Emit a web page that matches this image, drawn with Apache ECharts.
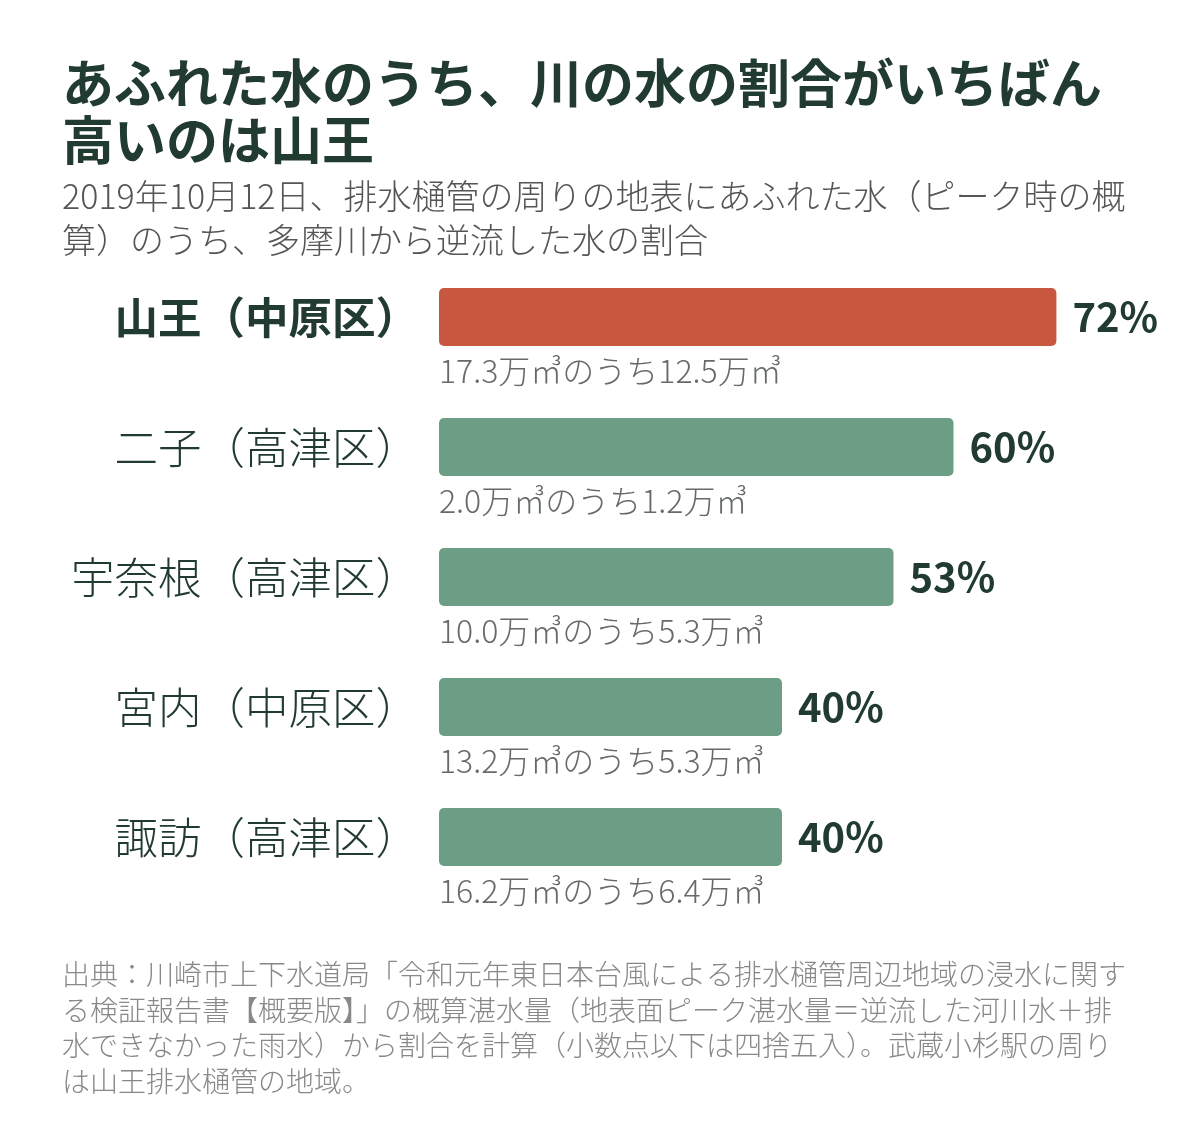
<!doctype html>
<html>
<head>
    <meta charset="utf-8">
    <title>あふれた水のうち、川の水の割合</title>
    <script src="https://cdn.jsdelivr.net/npm/echarts@6/dist/echarts.min.js"></script>
    <style>
        html, body{
            margin: 0;
            padding: 0;
            background-color: #fff;
        }
        #chartBox{
            width: 1200px;
            height: 1132px;
        }
    </style>
</head>
<body>
    <div id="chartBox"></div>
<script type="text/javascript">
    //データ
    var categories = ['山王（中原区）', '二子（高津区）', '宇奈根（高津区）', '宮内（中原区）', '諏訪（高津区）'];
    var ratioValues = [72, 60, 53, 40, 40];
    var subLabels = [
        '17.3万㎥のうち12.5万㎥',
        '2.0万㎥のうち1.2万㎥',
        '10.0万㎥のうち5.3万㎥',
        '13.2万㎥のうち5.3万㎥',
        '16.2万㎥のうち6.4万㎥'
    ];
    var highlightIndex = 0;

    var fontFamily = '"Noto Sans CJK JP", "Noto Sans", sans-serif';
    var darkColor = '#213b31';

    function chartInit(){
        var myChart = echarts.init(document.getElementById('chartBox'));

        var yData = categories.map(function(name, i){
            return i == highlightIndex ? {value: name, textStyle: {fontWeight: 'bold'}} : name;
        });
        var barData = ratioValues.map(function(v, i){
            return {
                value: v,
                itemStyle: {color: i == highlightIndex ? '#c8573f' : '#6b9e85'}
            };
        });

        var option = {
            backgroundColor: '#fff',
            textStyle: {fontFamily: fontFamily},
            title: [{
                text: 'あふれた水のうち、川の水の割合がいちばん\n高いのは山王',
                left: 62,
                top: 55,
                padding: 0,
                textStyle: {
                    fontFamily: fontFamily,
                    fontSize: 52,
                    lineHeight: 57,
                    fontWeight: 'bold',
                    color: darkColor
                }
            }, {
                text: '2019年10月12日、排水樋管の周りの地表にあふれた水（ピーク時の概\n算）のうち、多摩川から逆流した水の割合',
                left: 62,
                top: 174,
                padding: 0,
                textStyle: {
                    fontFamily: fontFamily,
                    fontSize: 34,
                    lineHeight: 44,
                    fontWeight: 300,
                    color: '#555'
                }
            }, {
                text: '出典：川崎市上下水道局「令和元年東日本台風による排水樋管周辺地域の浸水に関す\nる検証報告書【概要版】」の概算湛水量（地表面ピーク湛水量＝逆流した河川水＋排\n水できなかった雨水）から割合を計算（小数点以下は四捨五入）。武蔵小杉駅の周り\nは山王排水樋管の地域。',
                left: 62,
                top: 957,
                padding: 0,
                textStyle: {
                    fontFamily: fontFamily,
                    fontSize: 28,
                    lineHeight: 35.5,
                    fontWeight: 300,
                    color: '#888'
                }
            }],
            grid: {
                left: 439,
                top: 252,
                width: 686,
                height: 650
            },
            xAxis: {
                type: 'value',
                min: 0,
                max: 80,
                show: false
            },
            yAxis: {
                type: 'category',
                inverse: true,
                data: yData,
                axisLine: {show: false},
                axisTick: {show: false},
                axisLabel: {
                    margin: 20,
                    fontFamily: fontFamily,
                    fontSize: 43.5,
                    fontWeight: 300,
                    color: darkColor
                }
            },
            series: [{
                type: 'bar',
                data: barData,
                barWidth: 58,
                barGap: '-100%',
                itemStyle: {borderRadius: 5},
                label: {
                    show: true,
                    position: 'right',
                    distance: 16,
                    formatter: '{c}%',
                    fontFamily: fontFamily,
                    fontSize: 40,
                    fontWeight: 'bold',
                    color: darkColor
                },
                silent: true,
                z: 2
            }, {
                //棒の下の説明文字
                type: 'bar',
                data: ratioValues,
                barWidth: 58,
                barGap: '-100%',
                itemStyle: {color: 'rgba(0,0,0,0)'},
                label: {
                    show: true,
                    position: 'insideLeft',
                    distance: 0,
                    offset: [0, 54],
                    formatter: function(params){
                        return subLabels[params.dataIndex];
                    },
                    fontFamily: fontFamily,
                    fontSize: 32,
                    fontWeight: 300,
                    color: '#666b69'
                },
                silent: true,
                z: 1
            }]
        };
        myChart.clear();
        myChart.setOption(option);
    }
    chartInit();
</script>
</body>
</html>
